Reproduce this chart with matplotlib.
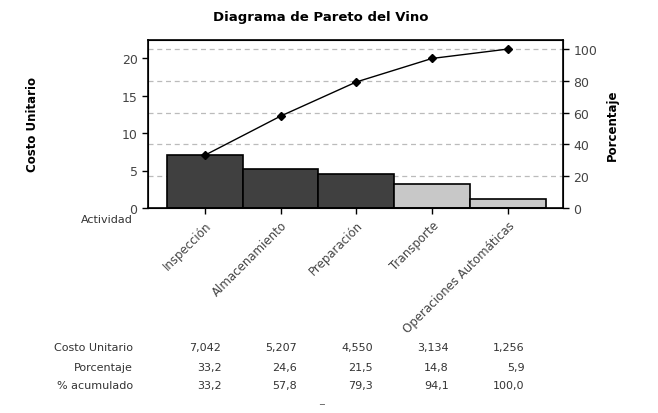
import matplotlib.pyplot as plt
from matplotlib import transforms

actividades = ["Inspección", "Almacenamiento", "Preparación", "Transporte",
               "Operaciones Automáticas"]
costo = [7.042, 5.207, 4.550, 3.134, 1.256]
porcentaje = [33.2, 24.6, 21.5, 14.8, 5.9]
acumulado = [33.2, 57.8, 79.3, 94.1, 100.0]
colores = ["#404040", "#404040", "#404040", "#c8c8c8", "#c8c8c8"]

plt.rcParams["font.family"] = "DejaVu Sans"

fig = plt.figure(figsize=(6.58, 4.14), dpi=100)
ax = fig.add_axes([148 / 658, 1 - 209 / 414, 415 / 658, 168 / 414])

total = sum(costo)
x = list(range(len(costo)))
ax.bar(x, costo, width=1.0, color=colores, edgecolor="black", linewidth=1.2, zorder=2)
ax.set_xlim(-0.75, 4.73)
ax.set_ylim(0, 22.4)
ax.set_yticks([0, 5, 10, 15, 20])
ax.set_xticks(x)
ax.set_xticklabels(actividades, rotation=45, ha="right", va="top",
                   rotation_mode="anchor", fontsize=8.5, color="#333333")
ax.tick_params(axis="both", direction="out", length=4, width=1, colors="black",
               labelcolor="#444444")
ax.tick_params(axis="y", labelsize=9)
for s in ax.spines.values():
    s.set_linewidth(1.2)

# lineas de cuadricula en posiciones de porcentaje
for p in [20, 40, 60, 80, 100]:
    ax.axhline(p * total / 100, color="#bbbbbb", linestyle=(0, (4, 3)),
               linewidth=0.9, zorder=0)

ax2 = ax.twinx()
ax2.set_ylim(0, 22.4 / total * 100)
ax2.set_yticks([0, 20, 40, 60, 80, 100])
ax2.tick_params(axis="y", direction="out", length=4, width=1, labelsize=9,
                labelcolor="#444444")
ax2.plot(x, acumulado, color="black", linewidth=1, marker="D", markersize=4)

fig.text(32 / 658, 1 - 125 / 414, "Costo Unitario", fontsize=8.5,
         fontweight="bold", rotation=90, ha="center", va="center")
fig.text(612 / 658, 1 - 125 / 414, "Porcentaje", fontsize=8.5,
         fontweight="bold", rotation=90, ha="center", va="center")

fig.text(0.488, 1 - 18 / 414, "Diagrama de Pareto del Vino", fontsize=9.5,
         fontweight="bold", ha="center", va="center")
fig.text(133 / 658, 1 - 220 / 414, "Actividad", fontsize=8, ha="right",
         va="center", color="#333333")

# tabla inferior
tr = transforms.blended_transform_factory(ax.transData, fig.transFigure)
filas = [
    ("Costo Unitario", [f"{v:.3f}".replace(".", ",") for v in costo], 348),
    ("Porcentaje", [f"{v:.1f}".replace(".", ",") for v in porcentaje], 368),
    ("% acumulado", [f"{v:.1f}".replace(".", ",") for v in acumulado], 386),
]
for nombre, valores, yp in filas:
    fig.text(133 / 658, 1 - yp / 414, nombre, fontsize=8, ha="right",
             va="center", color="#333333")
    for i, v in enumerate(valores):
        ax.text(i + 0.22, 1 - yp / 414, v, transform=tr, fontsize=8,
                ha="right", va="center", color="#333333")

fig.text(322 / 658, 1 - 400 / 414, "_", fontsize=7, ha="center", va="center",
         color="#555555")

fig.savefig("out.png", dpi=100)
